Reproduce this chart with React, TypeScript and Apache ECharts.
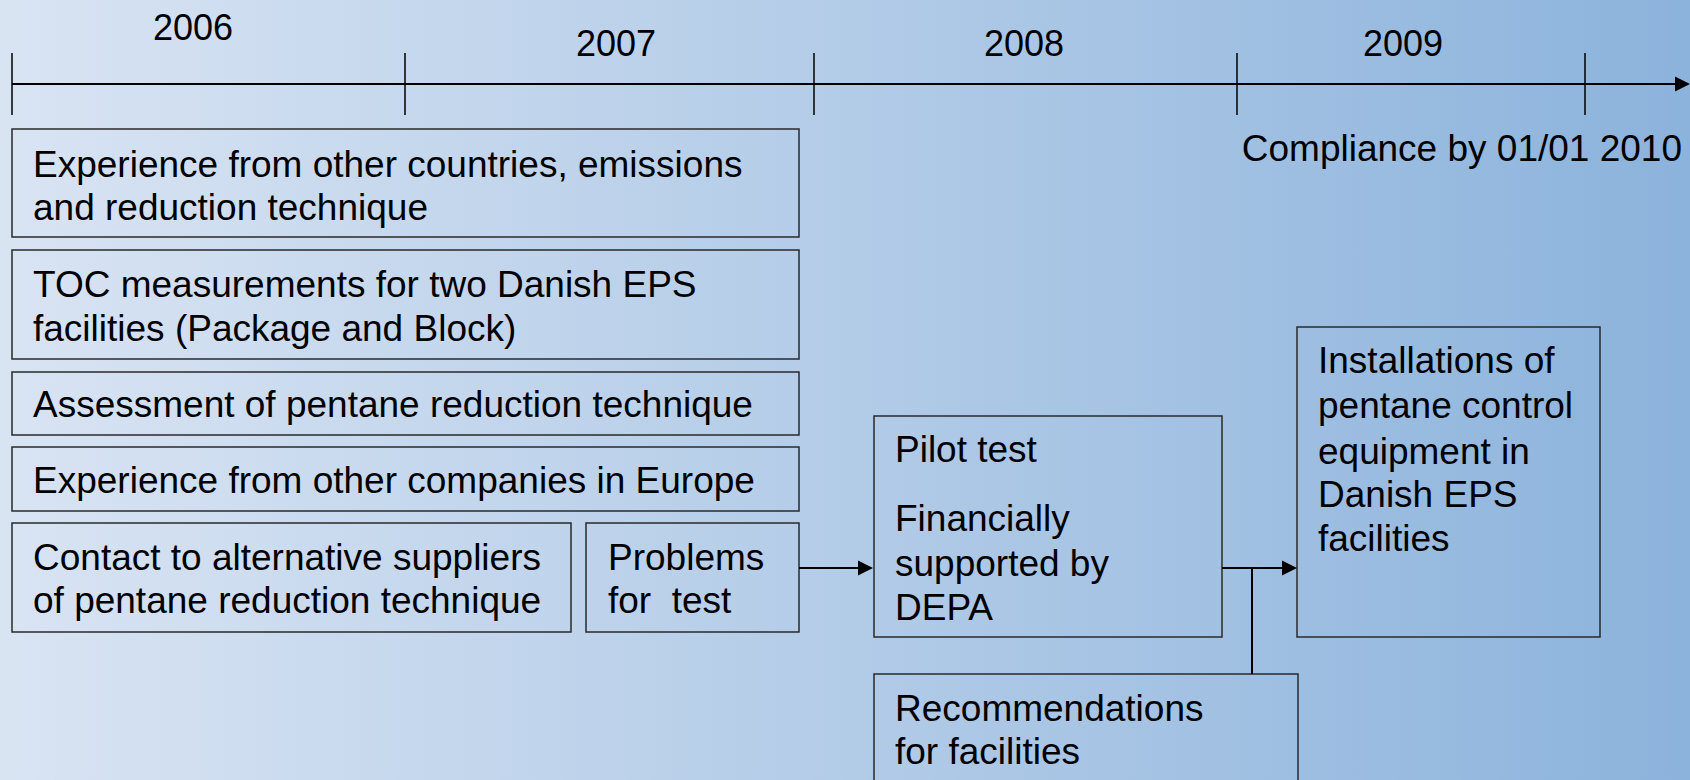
import React, { useEffect, useRef } from "react";
import * as echarts from "echarts";

// ---- Data ----
const years = ["2006", "2007", "2008", "2009"];
const yearLabelX = [193, 616, 1024, 1403];
const yearLabelY = [27, 43, 43, 43];
const tickX = [12, 405, 814, 1237, 1585];
const milestone = "Compliance by 01/01 2010";

const boxLabels = [
  ["Experience from other countries, emissions", "and reduction technique"],
  ["TOC measurements for two Danish EPS", "facilities (Package and Block)"],
  ["Assessment of pentane reduction technique"],
  ["Experience from other companies in Europe"],
  ["Contact to alternative suppliers", "of pentane reduction technique"],
  ["Problems", "for  test"],
  ["Pilot test", "Financially", "supported by", "DEPA"],
  ["Installations of", "pentane control", "equipment in", "Danish EPS", "facilities"],
  ["Recommendations", "for facilities"],
];
// box geometry: [x0, y0, x1, y1]
const boxRects = [
  [12, 129, 799, 237],
  [12, 250, 799, 359],
  [12, 372, 799, 435],
  [12, 447, 799, 511],
  [12, 523, 571, 632],
  [586, 523, 799, 632],
  [874, 416, 1222, 637],
  [1297, 327, 1600, 637],
  [874, 674, 1298, 800],
];
// text line baselines (middle y) per box
const boxLineY = [
  [164, 207],
  [284, 328],
  [404],
  [480],
  [557, 600],
  [557, 600],
  [449, 518, 563, 607],
  [360, 405, 451, 494, 538],
  [708, 751],
];
const boxTextX = [33, 33, 33, 33, 33, 608, 895, 1318, 895];

const FONT = "'Liberation Sans', Arial, Helvetica, sans-serif";
const FS = 37;

function App() {
  const ref = useRef<HTMLDivElement>(null);
  useEffect(() => {
    document.body.style.margin = "0";
    if (!ref.current) return;
    const chart = echarts.init(ref.current, null, { renderer: "svg" });
    const elements: any[] = [];

    // timeline axis
    elements.push({
      type: "line",
      shape: { x1: 12, y1: 84, x2: 1676, y2: 84 },
      style: { stroke: "#000", lineWidth: 2 },
    });
    elements.push({
      type: "polygon",
      shape: { points: [[1675, 76.5], [1690, 84], [1675, 91.5]] },
      style: { fill: "#000" },
    });
    tickX.forEach((x) => {
      elements.push({
        type: "line",
        shape: { x1: x, y1: 53, x2: x, y2: 115 },
        style: { stroke: "#000", lineWidth: 1.5 },
      });
    });
    years.forEach((y, i) => {
      elements.push({
        type: "text",
        x: yearLabelX[i],
        y: yearLabelY[i],
        style: {
          text: y,
          font: `${FS - 1}px ${FONT}`,
          fill: "#000",
          align: "center",
          verticalAlign: "middle",
        },
      });
    });
    elements.push({
      type: "text",
      x: 1682,
      y: 148,
      style: {
        text: milestone,
        font: `${FS}px ${FONT}`,
        fill: "#000",
        align: "right",
        verticalAlign: "middle",
      },
    });

    // boxes
    boxRects.forEach((r, i) => {
      elements.push({
        type: "rect",
        shape: { x: r[0], y: r[1], width: r[2] - r[0], height: r[3] - r[1] },
        style: { fill: "none", stroke: "#2a2a2a", lineWidth: 1.5 },
      });
      boxLabels[i].forEach((t, j) => {
        elements.push({
          type: "text",
          x: boxTextX[i],
          y: boxLineY[i][j],
          style: {
            text: t,
            font: `${FS}px ${FONT}`,
            fill: "#000",
            align: "left",
            verticalAlign: "middle",
          },
        });
      });
    });

    // connectors
    elements.push({
      type: "line",
      shape: { x1: 799, y1: 568, x2: 860, y2: 568 },
      style: { stroke: "#000", lineWidth: 2 },
    });
    elements.push({
      type: "polygon",
      shape: { points: [[858, 560.5], [873, 568], [858, 575.5]] },
      style: { fill: "#000" },
    });
    elements.push({
      type: "line",
      shape: { x1: 1222, y1: 568, x2: 1284, y2: 568 },
      style: { stroke: "#000", lineWidth: 2 },
    });
    elements.push({
      type: "polygon",
      shape: { points: [[1282, 560.5], [1297, 568], [1282, 575.5]] },
      style: { fill: "#000" },
    });
    elements.push({
      type: "line",
      shape: { x1: 1252, y1: 568, x2: 1252, y2: 674 },
      style: { stroke: "#000", lineWidth: 2 },
    });

    chart.setOption({
      animation: false,
      backgroundColor: new echarts.graphic.LinearGradient(0, 0, 1, 0, [
        { offset: 0, color: "#d9e4f3" },
        { offset: 1, color: "#8cb3dc" },
      ]),
      graphic: { elements },
    });
    return () => chart.dispose();
  }, []);
  return (
    <div
      ref={ref}
      style={{ position: "fixed", left: 0, top: 0, width: 1690, height: 780 }}
    />
  );
}

export default App;
